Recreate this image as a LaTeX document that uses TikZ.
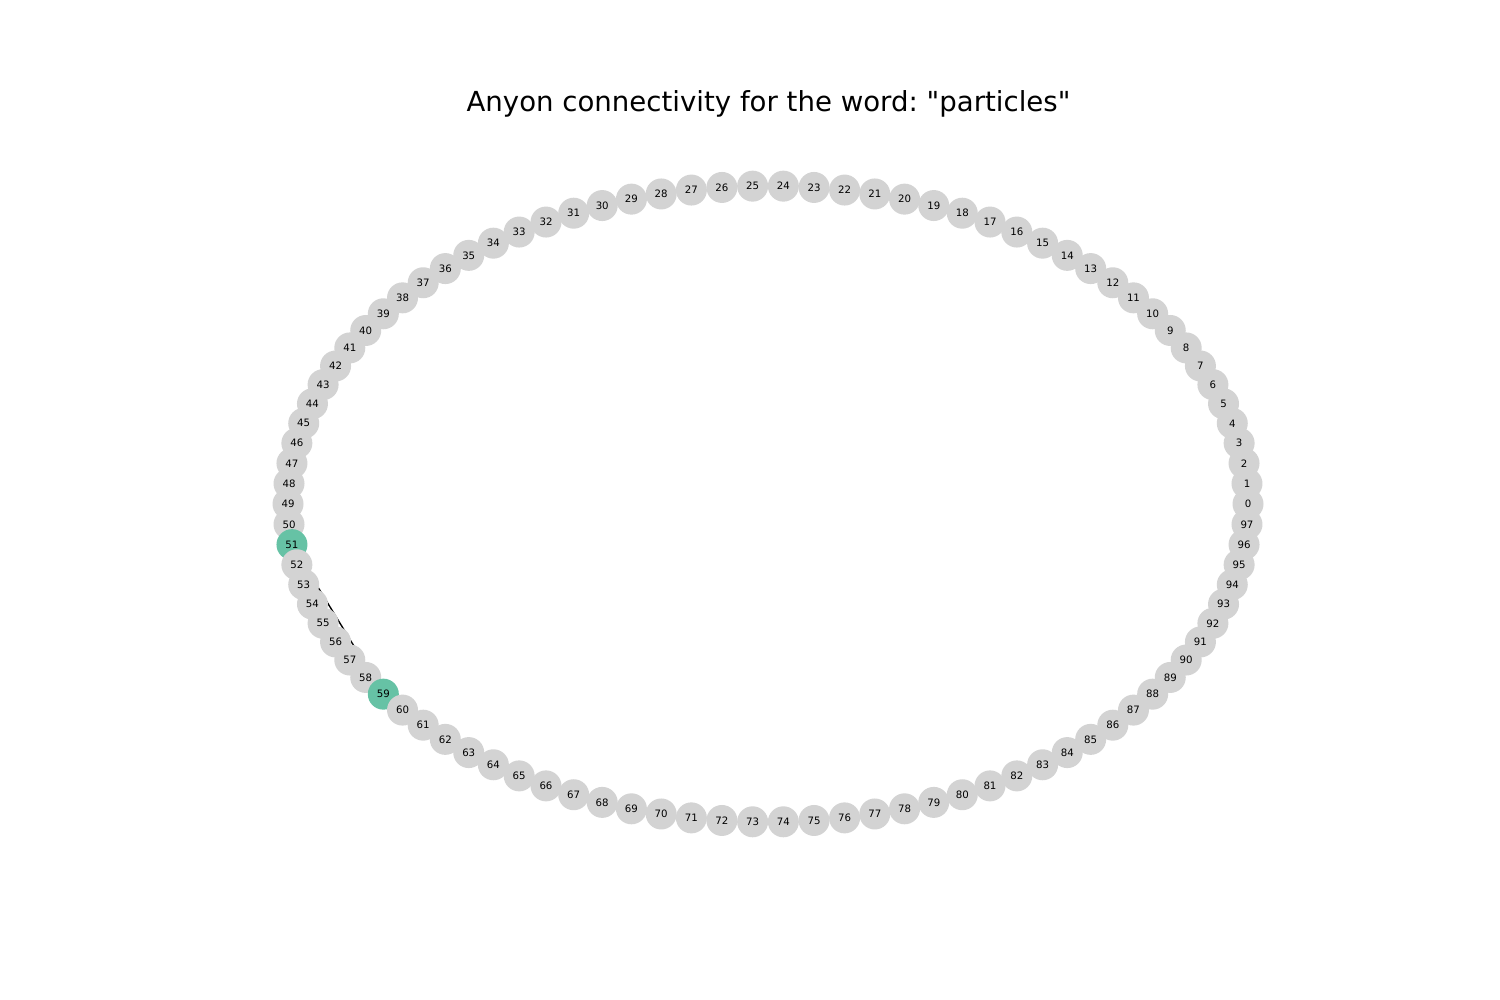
\documentclass[tikz,border=0pt]{standalone}
\usepackage{fontspec}
\setmainfont{DejaVu Sans}[Ligatures=TeXOff]
\usepackage{tikz}
\usetikzlibrary{positioning}
\usepackage{xcolor}

\definecolor{site}{HTML}{D3D3D3}
\definecolor{anyon}{HTML}{66C2A5}

\pgfdeclarelayer{background}
\pgfsetlayers{background,main}

\frenchspacing

\begin{document}
\begin{tikzpicture}[
  vertex/.style={circle, fill=site, inner sep=0pt, minimum size=0.31cm,
    font=\fontsize{2.9}{3}\selectfont},
  link/.style={draw=black, line width=0.4pt},
  scale=1
]
\useasboundingbox (0,0) rectangle (15,10);

% ==================
% Title
% ==================
\node[font=\fontsize{7.85}{9}\selectfont] (title) at (7.685,8.96)
  {Anyon connectivity for the word: "particles"};

% ==================
% Sites on the ring
% ==================
\begin{scope}[shift={(7.68,4.96)}]
\foreach \i in {0,...,97} {
  \pgfmathsetmacro\ang{(360/98)*\i}
  \ifnum\i=51 \def\col{anyon}\else\ifnum\i=59 \def\col{anyon}\else\def\col{site}\fi\fi
  \node[vertex, fill=\col] (n\i) at (\ang:4.80 and 3.18) {\i};
}
\end{scope}

% ==================
% Connection
% ==================
\begin{pgfonlayer}{background}
\draw[link] (n51.center) -- (n59.center);
\end{pgfonlayer}
\end{tikzpicture}
\end{document}
